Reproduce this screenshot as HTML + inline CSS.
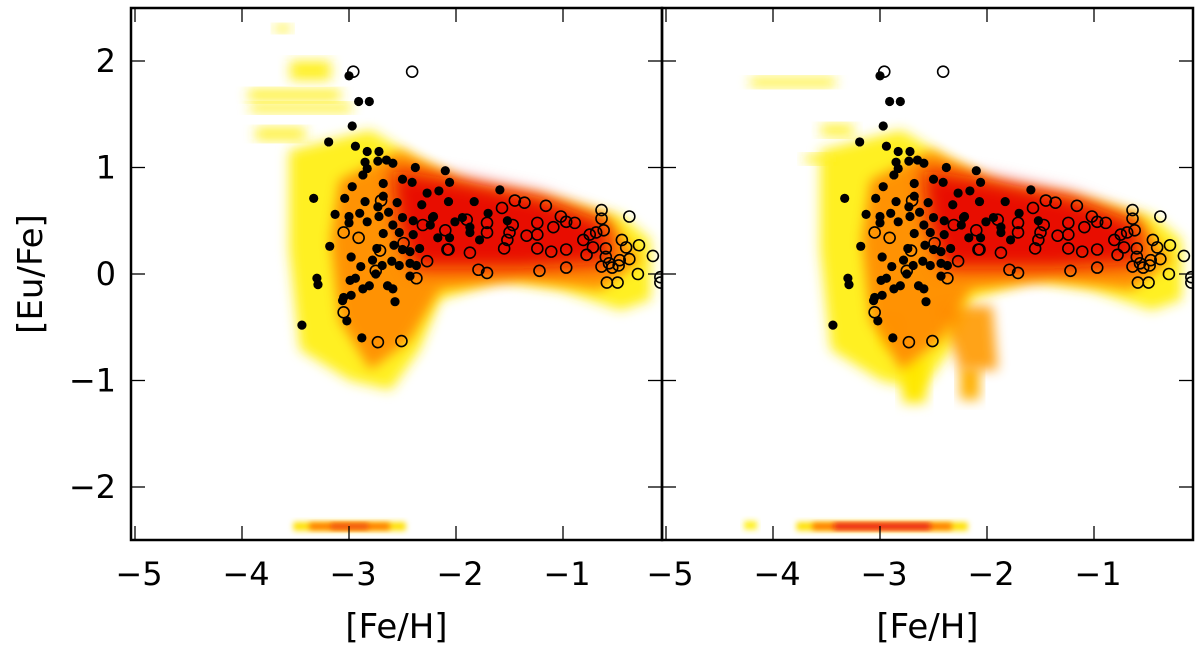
<!DOCTYPE html>
<html><head><meta charset="utf-8"><style>
body{margin:0;background:#fff;}
svg text{font-family:"DejaVu Sans","Liberation Sans",sans-serif;fill:#000;}
</style></head><body>
<svg id="chart" width="1200" height="655" viewBox="0 0 1200 655" xmlns="http://www.w3.org/2000/svg">
<defs>
<filter id="b1" x="-30%" y="-30%" width="160%" height="160%"><feGaussianBlur stdDeviation="6"/></filter>
<filter id="b0" x="-30%" y="-60%" width="160%" height="220%"><feGaussianBlur stdDeviation="3"/></filter>
<filter id="b2" x="-30%" y="-30%" width="160%" height="160%"><feGaussianBlur stdDeviation="9"/></filter>
<clipPath id="cl0"><rect x="131" y="8" width="531" height="532"/></clipPath>
<clipPath id="cl1"><rect x="662" y="8" width="531" height="532"/></clipPath>
</defs>
<g id="root"></g>
</svg>
<script>
// Observed stars (shared by both panels)
const filledFe=[-3.00,-2.91,-2.81,-2.97,-3.19,-2.94,-2.83,-2.72,-2.65,-2.59,-2.73,-2.85,-2.83,-2.87,-2.38,-2.10,-2.50,-2.41,-2.68,-2.97,-2.27,-2.16,-3.33,-3.04,-2.68,-2.85,-2.55,-2.32,-2.73,-3.13,-3.00,-2.90,-2.63,-2.50,-3.00,-2.83,-2.72,-2.40,-2.22,-2.59,-2.53,-2.68,-2.40,-3.18,-2.74,-2.58,-2.50,-2.43,-2.34,-2.60,-2.53,-2.43,-2.37,-2.98,-2.78,-2.69,-2.89,-2.75,-2.43,-3.30,-3.29,-2.99,-2.94,-2.87,-2.81,-2.64,-2.59,-2.98,-3.05,-3.06,-2.57,-3.02,-3.44,-2.88,-2.17,-2.06,-2.07,-1.59,-1.83,-1.70,-1.52,-2.21,-2.01,-1.94,-2.24,-2.06,-1.87,-1.78,-1.87];
const filledEu=[1.86,1.62,1.62,1.39,1.24,1.20,1.15,1.15,1.07,1.04,1.06,1.05,0.99,0.93,1.00,0.97,0.89,0.86,0.85,0.82,0.76,0.78,0.71,0.71,0.73,0.68,0.67,0.65,0.63,0.56,0.54,0.57,0.58,0.53,0.48,0.49,0.54,0.50,0.53,0.46,0.39,0.38,0.37,0.26,0.24,0.27,0.23,0.21,0.24,0.12,0.08,0.10,0.08,0.16,0.13,0.08,0.07,0.00,-0.02,-0.04,-0.10,-0.06,-0.04,-0.14,-0.11,-0.11,-0.14,-0.20,-0.22,-0.25,-0.26,-0.44,-0.48,-0.60,0.34,0.86,0.68,0.79,0.68,0.57,0.50,0.54,0.49,0.53,0.46,0.34,0.39,0.32,0.44];
const openFe=[-2.96,-2.41,-2.70,-3.05,-2.91,-2.31,-2.49,-2.71,-2.27,-2.37,-2.75,-3.05,-2.73,-2.51,-2.08,-2.10,-1.45,-1.36,-1.16,-1.57,-1.90,-1.71,-1.47,-1.24,-1.09,-0.97,-0.89,-1.02,-0.64,-0.64,-0.38,-1.71,-1.50,-1.34,-1.24,-1.52,-1.55,-1.24,-1.11,-0.97,-0.81,-0.75,-0.69,-0.62,-0.72,-0.60,-0.45,-0.41,-0.29,-0.78,-0.60,-0.57,-0.47,-0.38,-0.54,-0.64,-0.48,-0.30,-0.16,-0.59,-0.49,-1.87,-2.07,-1.79,-1.71,-1.22,-0.97,-0.09,-0.09];
const openEu=[1.90,1.90,0.69,0.39,0.34,0.46,0.29,0.22,0.12,-0.04,0.03,-0.36,-0.64,-0.63,0.23,0.41,0.69,0.67,0.64,0.62,0.51,0.48,0.46,0.48,0.44,0.49,0.48,0.54,0.60,0.52,0.54,0.39,0.39,0.36,0.37,0.32,0.24,0.24,0.21,0.23,0.32,0.37,0.39,0.41,0.25,0.24,0.32,0.25,0.27,0.18,0.16,0.10,0.13,0.14,0.06,0.07,0.08,0.00,0.17,-0.08,-0.08,0.20,0.23,0.04,0.01,0.03,0.06,-0.08,-0.03];
const xTicks=[-5,-4,-3,-2,-1];
const xTickLabels=["\u22125","\u22124","\u22123","\u22122","\u22121"];
const yTicks=[2,1,0,-1,-2];
const yTickLabels=["2","1","0","\u22121","\u22122"];
// Model density regions (data units: [Fe/H], [Eu/Fe])
const yellowFe=[-3.56,-2.80,-2.34,-1.78,-1.02,-0.46,-0.18,-0.18,-0.46,-1.02,-1.59,-2.15,-2.34,-2.61,-2.99,-3.46,-3.56];
const yellowEu=[1.16,1.35,1.07,0.79,0.69,0.55,0.32,-0.24,-0.34,-0.15,-0.06,-0.24,-0.71,-1.09,-1.00,-0.71,0.23];
const orangeFe=[-3.09,-2.52,-1.97,-1.21,-0.56,-0.27,-0.65,-1.40,-2.15,-2.43,-2.80,-3.09,-3.17];
const orangeEu=[0.88,1.16,0.88,0.74,0.51,0.13,-0.15,-0.06,-0.15,-0.62,-0.90,-0.43,0.32];
const redFe=[-2.60,-1.97,-1.21,-0.60,-0.55,-1.40,-1.97,-2.40,-2.55];
const redEu=[0.98,0.88,0.72,0.48,0.10,0.05,0.05,0.05,0.46];
const streakFe0=[[-3.69,-3.55],[-3.55,-3.17],[-3.94,-3.08],[-3.92,-2.98],[-3.87,-3.41]];
const streakEu0=[[2.34,2.27],[2.00,1.82],[1.73,1.63],[1.60,1.52],[1.37,1.26]];
const streakFe1=[[-4.21,-3.42],[-3.70,-3.45],[-3.55,-3.25]];
const streakEu1=[[1.84,1.76],[1.12,1.04],[1.40,1.30]];
const lowYFe1=[[-3.00,-2.79],[-2.79,-2.57]];
const lowYEu1=[[-0.40,-0.69],[-0.78,-1.21]];
const lowOFe1=[-2.25,-2.07];
const lowOEu1=[-0.87,-1.18];
const bandFe0=[-3.52,-2.47];
const bandFe1=[-3.78,-2.18];
const bandEu=[-2.33,-2.41];

const NS='http://www.w3.org/2000/svg';
const root=document.getElementById('root');
const PW=531, PT=8, PH=532;
function sx(p,v){return 135+p*PW+(v+5)*107;}
function sy(v){return 274-v*106.5;}
function mk(tag,attrs,parent){const e=document.createElementNS(NS,tag);for(const k in attrs)e.setAttribute(k,attrs[k]);(parent||root).appendChild(e);return e;}

for(let p=0;p<2;p++){
  const L=131+p*PW;
  const panel=mk('g',{'clip-path':'url(#cl'+p+')'});
  
  
  const heat=mk('g',{},panel);
  
  
  function poly(fe,eu,fill,filt,op){
    let pts=fe.map((v,i)=>sx(p,v)+','+sy(eu[i])).join(' ');
    const e=mk('polygon',{points:pts,fill:fill,filter:filt,opacity:op},heat);
    
    
  }
  function box(f0,f1,e0,e1,fill,filt){
    const e=mk('rect',{x:sx(p,f0),y:sy(e0),width:sx(p,f1)-sx(p,f0),height:sy(e1)-sy(e0),fill:fill,filter:filt},heat);
    
    
  }
  poly(yellowFe,yellowEu,'#fff020','url(#b1)',1);
  const sf=p?streakFe1:streakFe0, se=p?streakEu1:streakEu0;
  sf.forEach((r,i)=>box(r[0],r[1],se[i][0],se[i][1],'#fff020','url(#b1)'));
  if(p){
    lowYFe1.forEach((r,i)=>box(r[0],r[1],lowYEu1[i][0],lowYEu1[i][1],'#ffe800','url(#b1)'));
    box(lowOFe1[0],lowOFe1[1],lowOEu1[0],lowOEu1[1],'#ffb000','url(#b1)');
    poly([-2.45,-1.95,-1.90,-2.25],[-0.3,-0.3,-0.9,-0.9],'#ff9a00','url(#b1)',0.9);
  }
  poly(orangeFe,orangeEu,'#ff8800','url(#b1)',0.9);
  poly(redFe,redEu,'#e80800','url(#b2)',1);
  const bf=p?bandFe1:bandFe0;
  box(bf[0],bf[1],bandEu[0],bandEu[1],'#ffe000','url(#b0)');
  box(bf[0]+0.15,bf[1]-0.15,bandEu[0]-0.01,bandEu[1]+0.01,'#ff7000','url(#b0)');
  box(bf[0]+0.35,bf[1]-0.35,bandEu[0]-0.015,bandEu[1]+0.015,p?'#e81020':'#f05010','url(#b0)');
  if(p){ box(-4.27,-4.15,-2.32,-2.40,'#fff020','url(#b0)'); }
  openFe.forEach((v,i)=>{
    const c=mk('circle',{cx:sx(p,v),cy:sy(openEu[i]),r:5.5,fill:'none',stroke:'#000','stroke-width':1.6},panel);
    
    
  });
  filledFe.forEach((v,i)=>{
    const c=mk('circle',{cx:sx(p,v),cy:sy(filledEu[i]),r:4.6,fill:'#000'},panel);
    
    
  });
  const fr=mk('rect',{x:L,y:PT,width:PW,height:PH,fill:'none',stroke:'#000','stroke-width':2.5});
  
  
  xTicks.forEach((t,i)=>{
    const x=sx(p,t);
    mk('line',{x1:x,x2:x,y1:PT+PH,y2:PT+PH-14,stroke:'#000','stroke-width':1.3});
    mk('line',{x1:x,x2:x,y1:PT,y2:PT+14,stroke:'#000','stroke-width':1.3});
    const tx=mk('text',{x:x+4,y:585,'font-size':32,'text-anchor':'middle'});
    tx.textContent=xTickLabels[i];
    
    
  });
  yTicks.forEach((t,i)=>{
    const y=sy(t);
    mk('line',{x1:L,x2:L+14,y1:y,y2:y,stroke:'#000','stroke-width':1.3});
    mk('line',{x1:L+PW,x2:L+PW-14,y1:y,y2:y,stroke:'#000','stroke-width':1.3});
    if(p===0){
      const ty=mk('text',{x:116,y:y+11,'font-size':32,'text-anchor':'end'});
      ty.textContent=yTickLabels[i];
      
      
    }
  });
  const xl=mk('text',{x:L+PW/2,y:638,'font-size':34,'text-anchor':'middle'});
  xl.textContent='[Fe/H]';
  
  
}
const yl=mk('text',{x:0,y:0,'font-size':34,'text-anchor':'middle',transform:'translate(42,274) rotate(-90)'});
yl.textContent='[Eu/Fe]';


</script>
</body></html>
